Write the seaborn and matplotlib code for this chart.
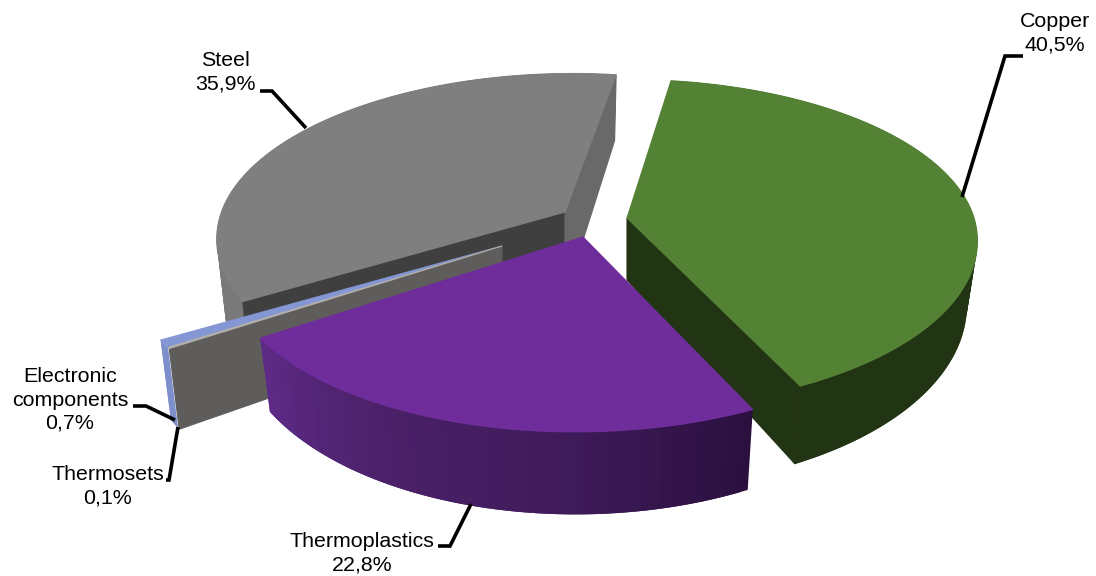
import numpy as np
import matplotlib
matplotlib.use("Agg")
import matplotlib.pyplot as plt
import seaborn as sns

# data
materials = ["Copper", "Thermoplastics", "Thermosets", "Electronic\ncomponents", "Steel"]
shares = [40.5, 22.8, 0.1, 0.7, 35.9]

# where the first slice starts, degrees clockwise from north
START_ANGLE = 8.3

# projection of the disc
A, B, K = 347.0, 161.8, 0.139
DEPTH_X = 0.97

# per slice: apex in pixels, x stretch, y stretch (far / near half), shear, wall depth
layout = [
    dict(apex=(627, 218), sx=1.0, up=0.975, down=1.01, shear=0.0, depth=62, far=0.0),
    dict(apex=(583, 237), sx=1.02, up=1.0, down=1.037, shear=-0.04, depth=64, far=0.0),
    dict(apex=(502, 246), sx=1.065, up=1.0, down=1.05, shear=0.0, depth=71, far=0.0),
    dict(apex=(502, 246), sx=1.065, up=1.0, down=1.05, shear=0.0, depth=71, far=0.0),
    dict(apex=(565, 212), sx=0.99, up=0.975, down=1.0, shear=-0.055, depth=85, far=0.14),
]

GREEN, GREEN_DARK = "#548235", "#213413"
PURPLE = "#6f2c9b"
GRAY, GRAY_SIDE, GRAY_CUT, GRAY_END = "#7f7f7f", "#797979", "#3f3f3f", "#696969"
BLUE, BLUE_SIDE = "#8497d4", "#7d90cc"
THIN_TOP, THIN_CUT = "#b3afaa", "#5f5c5c"

# leader lines and label anchors
leaders = [
    [(962, 197), (1005, 56), (1023, 56)],
    [(471, 504), (450, 546), (438, 546)],
    [(178, 427), (169, 480), (166, 480)],
    [(175, 420), (146, 406), (133, 406)],
    [(306, 128), (272, 91), (260, 91)],
]
label_pos = [(1055, 33), (362, 553), (108, 486), (70, 400), (225, 72)]


def project(theta, s):
    t = np.radians(theta)
    w = 1 + K * np.cos(t)
    x = A * np.sin(t) / w * s["sx"]
    y = -B * np.cos(t) / w
    y = y * np.where(y < 0, s["up"], s["down"])
    return x + s["shear"] * y, y


def top_pts(theta, s):
    x, y = project(theta, s)
    return np.column_stack([x + s["apex"][0], y + s["apex"][1]])


def bottom_pts(theta, s):
    x, y = project(theta, s)
    depth = s["depth"] + np.maximum(y, 0) * 0.095 + np.minimum(y, 0) * s["far"]
    return np.column_stack([x * DEPTH_X + s["apex"][0], y + depth + s["apex"][1]])


def apex_bottom(s):
    return (s["apex"][0], s["apex"][1] + s["depth"])


def draw_top(ax, a0, a1, s, color):
    arc = top_pts(np.linspace(a0, a1, 200), s)
    pts = np.vstack([[s["apex"]], arc])
    ax.fill(pts[:, 0], pts[:, 1], color=color, lw=0.8, zorder=s["z"] + 0.3)


def draw_cut(ax, angle, s, color):
    a = np.array([angle], dtype=float)
    pts = np.vstack([[s["apex"]], top_pts(a, s), bottom_pts(a, s), [apex_bottom(s)]])
    ax.fill(pts[:, 0], pts[:, 1], color=color, lw=0.8, zorder=s["z"] + 0.2)


def draw_rim(ax, a0, a1, s, colors):
    # strips along the outer wall, each one runs under the next so no seams show
    edges = np.linspace(a0, a1, len(colors) + 1)
    for i, c in enumerate(colors):
        stop = edges[min(i + 2, len(colors))]
        th = np.linspace(edges[i], stop, 6)
        pts = np.vstack([top_pts(th, s), bottom_pts(th[::-1], s)])
        ax.fill(pts[:, 0], pts[:, 1], color=c, lw=0, zorder=s["z"] + 0.1)


sns.set_theme(style="white")
plt.rcParams["font.family"] = ["Liberation Sans", "DejaVu Sans"]

fig = plt.figure(figsize=(10.96, 5.76), dpi=100)
ax = fig.add_axes([0, 0, 1, 1])
ax.set_xlim(0, 1096)
ax.set_ylim(576, 0)
ax.axis("off")

bounds = START_ANGLE + np.concatenate([[0], np.cumsum(shares)]) * 3.6
for s, z in zip(layout, [2, 4, 3, 2.8, 1]):
    s["z"] = z

# Copper
s = layout[0]
draw_rim(ax, bounds[0], bounds[1], s, [GREEN_DARK] * 80)
draw_cut(ax, bounds[1], s, GREEN_DARK)
draw_top(ax, bounds[0], bounds[1], s, GREEN)

# Thermoplastics, wall fades from left to right
s = layout[1]
wall = sns.blend_palette(["#2b103f", "#3f1b5a", "#4b2169", "#5e2a86"], 60)
draw_rim(ax, bounds[1], bounds[2], s, wall)
draw_top(ax, bounds[1], bounds[2], s, PURPLE)

# Thermosets
s = layout[2]
draw_cut(ax, bounds[2], s, THIN_CUT)
draw_top(ax, bounds[2], bounds[3], s, THIN_TOP)

# Electronic components
s = layout[3]
draw_rim(ax, bounds[3], bounds[4], s, [BLUE_SIDE] * 4)
draw_top(ax, bounds[3], bounds[4], s, BLUE)

# Steel
s = layout[4]
draw_rim(ax, bounds[4], bounds[5], s, [GRAY_SIDE] * 80)
draw_cut(ax, bounds[4], s, GRAY_CUT)
draw_cut(ax, bounds[5], s, GRAY_END)
draw_top(ax, bounds[4], bounds[5], s, GRAY)

for name, val, pos, line in zip(materials, shares, label_pos, leaders):
    xs, ys = zip(*line)
    ax.plot(xs, ys, color="black", lw=2.6, solid_capstyle="butt", solid_joinstyle="miter", zorder=6)
    label = f"{name}\n{val:.1f}%".replace(".", ",")
    ax.text(pos[0], pos[1], label, ha="center", va="center", fontsize=15.4,
            linespacing=1.27, color="black", zorder=7)

fig.savefig("out.png", dpi=100)
